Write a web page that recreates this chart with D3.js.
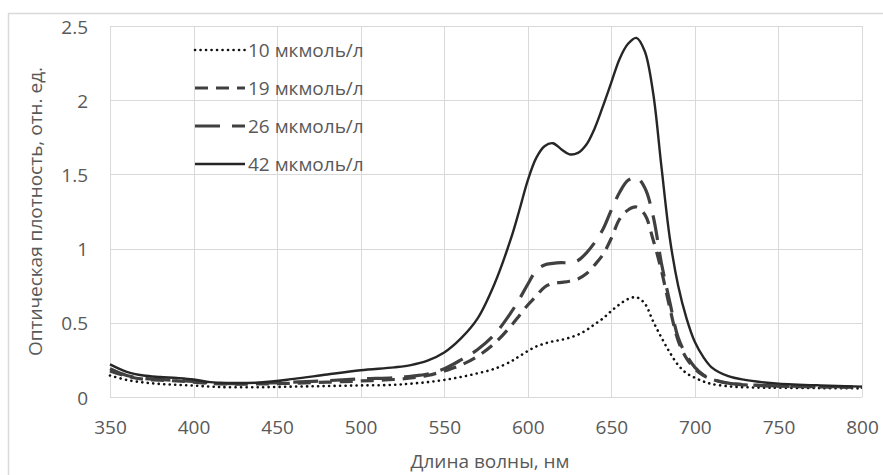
<!DOCTYPE html>
<html>
<head>
<meta charset="utf-8">
<script src="https://cdn.jsdelivr.net/npm/d3@7"></script>
<style>
  html, body { margin: 0; padding: 0; background: #fff; }
  svg { display: block; }
  text { font-family: "Open Sans", "Noto Sans", sans-serif; fill: #595959; }
</style>
</head>
<body>
<svg id="chart" width="883" height="475"></svg>
<script>
// Absorption spectra: wavelength (nm) and optical density for four concentrations
const wavelengths = [350, 360, 370, 380, 390, 400, 410, 420, 440, 460, 480, 500, 520, 530, 540, 550, 560, 570, 580, 590,
  595, 600, 605, 610, 615, 620, 625, 630, 635, 640, 645, 650, 655, 660, 665, 670, 675, 680, 685, 690,
  695, 700, 705, 710, 720, 730, 740, 750, 775, 800];

const od10 = [0.145, 0.115, 0.098, 0.088, 0.082, 0.077, 0.07, 0.066, 0.066, 0.07, 0.074, 0.078, 0.082, 0.09, 0.1, 0.115, 0.135, 0.16, 0.19, 0.24,
  0.275, 0.31, 0.34, 0.36, 0.375, 0.385, 0.4, 0.42, 0.45, 0.49, 0.53, 0.58, 0.625, 0.66, 0.672, 0.63, 0.51, 0.4, 0.3, 0.215,
  0.16, 0.13, 0.105, 0.088, 0.072, 0.066, 0.063, 0.062, 0.06, 0.058];

const od19 = [0.175, 0.14, 0.12, 0.113, 0.108, 0.1, 0.092, 0.088, 0.088, 0.093, 0.1, 0.108, 0.118, 0.128, 0.145, 0.175, 0.215, 0.275, 0.36, 0.48,
  0.55, 0.62, 0.68, 0.74, 0.765, 0.772, 0.78, 0.795, 0.83, 0.89, 0.96, 1.07, 1.2, 1.26, 1.28, 1.23, 1.06, 0.85, 0.6, 0.38,
  0.26, 0.19, 0.145, 0.12, 0.092, 0.082, 0.076, 0.073, 0.068, 0.065];

const od26 = [0.19, 0.145, 0.125, 0.118, 0.112, 0.105, 0.095, 0.09, 0.093, 0.1, 0.11, 0.122, 0.13, 0.14, 0.155, 0.19, 0.25, 0.32, 0.42, 0.57,
  0.66, 0.76, 0.85, 0.89, 0.9, 0.905, 0.905, 0.92, 0.97, 1.04, 1.13, 1.26, 1.38, 1.46, 1.48, 1.41, 1.22, 0.9, 0.64, 0.4,
  0.28, 0.2, 0.15, 0.122, 0.094, 0.083, 0.078, 0.075, 0.07, 0.068];

const od42 = [0.22, 0.17, 0.145, 0.135, 0.128, 0.118, 0.1, 0.095, 0.098, 0.122, 0.152, 0.18, 0.2, 0.215, 0.245, 0.3, 0.395, 0.53, 0.76, 1.07,
  1.26, 1.46, 1.61, 1.69, 1.71, 1.67, 1.635, 1.645, 1.7, 1.81, 1.96, 2.12, 2.28, 2.38, 2.42, 2.33, 2.05, 1.55, 1.07, 0.75,
  0.53, 0.37, 0.27, 0.2, 0.14, 0.115, 0.1, 0.09, 0.078, 0.07];

const seriesNames = ["10 мкмоль/л", "19 мкмоль/л", "26 мкмоль/л", "42 мкмоль/л"];
const xTicks = [350, 400, 450, 500, 550, 600, 650, 700, 750, 800];
const yTicks = [0, 0.5, 1, 1.5, 2, 2.5];
const yTickLabels = ["0", "0.5", "1", "1.5", "2", "2.5"];
const xTitle = "Длина волны, нм";
const yTitle = "Оптическая плотность, отн. ед.";

// Line styles per series
const styles = [
  { color: "#111111", width: 2.6, dash: "0.1,5.4", cap: "round" },
  { color: "#404040", width: 3.2, dash: "13,8", cap: "butt" },
  { color: "#404040", width: 3.2, dash: "25,12", cap: "butt" },
  { color: "#262626", width: 2.4, dash: null, cap: "butt" }
];

const FONT = 19;
const svg = d3.select("#chart");
const W = 883, H = 475;
const plot = { left: 110, right: 862, top: 26, bottom: 397 };

// Outer chart frame
svg.append("line").attr("x1", 8).attr("x2", W).attr("y1", 13.5).attr("y2", 13.5)
  .attr("stroke", "#d9d9d9").attr("stroke-width", 1.5);
svg.append("line").attr("x1", 8.5).attr("x2", 8.5).attr("y1", 13).attr("y2", H)
  .attr("stroke", "#d9d9d9").attr("stroke-width", 1.5);

const x = d3.scaleLinear().domain([350, 800]).range([plot.left, plot.right]);
const y = d3.scaleLinear().domain([0, 2.5]).range([plot.bottom, plot.top]);

// Gridlines
const grid = svg.append("g").attr("stroke", "#d9d9d9").attr("stroke-width", 1);
grid.selectAll("line.v").data(xTicks).join("line")
  .attr("x1", d => Math.round(x(d)) + 0.5).attr("x2", d => Math.round(x(d)) + 0.5)
  .attr("y1", plot.top).attr("y2", plot.bottom);
grid.selectAll("line.h").data(yTicks).join("line")
  .attr("x1", plot.left).attr("x2", plot.right)
  .attr("y1", d => Math.round(y(d)) + 0.5).attr("y2", d => Math.round(y(d)) + 0.5);

// Axes (labels only, tick marks hidden)
const xAxis = d3.axisBottom(x).tickValues(xTicks).tickSize(0).tickPadding(0).tickFormat(d3.format("d"));
svg.append("g").attr("transform", `translate(0,${plot.bottom + 30})`).call(xAxis)
  .call(g => g.select(".domain").remove())
  .call(g => g.selectAll("text").attr("font-size", FONT).attr("fill", "#595959")
    .attr("font-family", "'Open Sans', sans-serif").attr("dy", null)
    .attr("dominant-baseline", "central"));

const yAxis = d3.axisLeft(y).tickValues(yTicks).tickSize(0).tickPadding(0)
  .tickFormat((d, i) => yTickLabels[i]);
svg.append("g").attr("transform", `translate(${plot.left - 22},0)`).call(yAxis)
  .call(g => g.select(".domain").remove())
  .call(g => g.selectAll("text").attr("font-size", FONT).attr("fill", "#595959")
    .attr("font-family", "'Open Sans', sans-serif").attr("dy", null)
    .attr("dominant-baseline", "central"));

// Axis titles
svg.append("text").attr("x", (plot.left + plot.right) / 2 + 4).attr("y", 468)
  .attr("text-anchor", "middle")
  .attr("font-size", FONT).text(xTitle);
svg.append("text")
  .attr("transform", `translate(35,${(plot.top + plot.bottom) / 2}) rotate(-90)`)
  .attr("text-anchor", "middle").attr("dominant-baseline", "central")
  .attr("font-size", FONT).text(yTitle);

// Spectra
const data = [od10, od19, od26, od42];
const line = d3.line().x((d, i) => x(wavelengths[i])).y(d => y(d)).curve(d3.curveCatmullRom.alpha(0.5));
const curves = svg.append("g");
data.forEach((vals, k) => {
  const s = styles[k];
  const p = curves.append("path").datum(vals)
    .attr("d", line).attr("fill", "none")
    .attr("stroke", s.color).attr("stroke-width", s.width)
    .attr("stroke-linecap", s.cap).attr("stroke-linejoin", "round");
  if (s.dash) p.attr("stroke-dasharray", s.dash);
});

// Legend
const legend = svg.append("g");
const legY = [50, 88, 126, 164];
seriesNames.forEach((name, k) => {
  const s = styles[k];
  const l = legend.append("line").attr("x1", 195).attr("x2", 245)
    .attr("y1", legY[k]).attr("y2", legY[k])
    .attr("stroke", s.color).attr("stroke-width", s.width).attr("stroke-linecap", s.cap);
  if (s.dash) l.attr("stroke-dasharray", s.dash);
  legend.append("text").attr("x", 248).attr("y", legY[k])
    .attr("dominant-baseline", "central").attr("font-size", FONT).text(name);
});
</script>
</body>
</html>
